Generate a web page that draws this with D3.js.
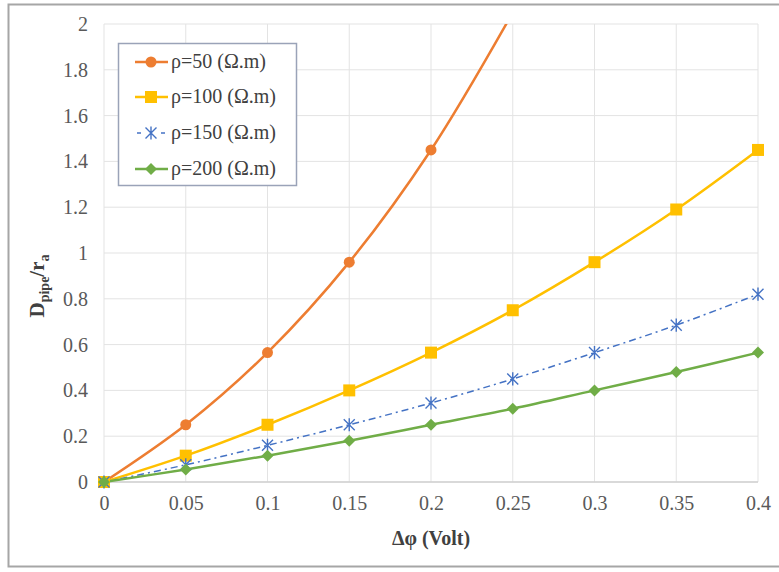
<!DOCTYPE html>
<html>
<head>
<meta charset="utf-8">
<script src="https://cdn.jsdelivr.net/npm/d3@7"></script>
<style>
  body { margin: 0; background: #fff; }
  svg text { font-family: "Liberation Serif", "Times New Roman", serif; }
</style>
</head>
<body>
<div id="chart"></div>
<script>
const xValues = [0, 0.05, 0.1, 0.15, 0.2, 0.25, 0.3, 0.35, 0.4];
const rho50 = [0, 0.25, 0.565, 0.96, 1.45, 2.05];
const rho100 = [0, 0.115, 0.25, 0.4, 0.565, 0.75, 0.96, 1.19, 1.45];
const rho150 = [0, 0.075, 0.16, 0.25, 0.345, 0.45, 0.565, 0.685, 0.82];
const rho200 = [0, 0.055, 0.115, 0.18, 0.25, 0.32, 0.4, 0.48, 0.565];
const xTicks = [0, 0.05, 0.1, 0.15, 0.2, 0.25, 0.3, 0.35, 0.4];
const yTicks = [0, 0.2, 0.4, 0.6, 0.8, 1, 1.2, 1.4, 1.6, 1.8, 2];

const series = [
  { name: "ρ=50 (Ω.m)", values: rho50, color: "#ED7D31", marker: "circle", dash: null, width: 2.5 },
  { name: "ρ=100 (Ω.m)", values: rho100, color: "#FFC000", marker: "square", dash: null, width: 2.5 },
  { name: "ρ=150 (Ω.m)", values: rho150, color: "#4472C4", marker: "star", dash: "7,4,2,4", width: 1.5 },
  { name: "ρ=200 (Ω.m)", values: rho200, color: "#70AD47", marker: "diamond", dash: null, width: 2.5 },
];

const width = 779, height = 572;
const margin = { left: 104, right: 21, top: 24, bottom: 90 };
const plotW = width - margin.left - margin.right;
const plotH = height - margin.top - margin.bottom;

const svg = d3.select("#chart").append("svg")
  .attr("width", width).attr("height", height);

// outer frame
svg.append("rect")
  .attr("x", 8.5).attr("y", 4.5).attr("width", width).attr("height", 562)
  .attr("fill", "none").attr("stroke", "#a6a6a6").attr("stroke-width", 2);

const x = d3.scaleLinear().domain([0, 0.4]).range([0, plotW]);
const y = d3.scaleLinear().domain([0, 2]).range([plotH, 0]);

const g = svg.append("g").attr("transform", `translate(${margin.left},${margin.top})`);

svg.append("defs").append("clipPath").attr("id", "plotClip")
  .append("rect").attr("x", -8).attr("y", 0).attr("width", plotW + 16).attr("height", plotH + 8);

// gridlines
g.append("g").selectAll("line").data(yTicks).join("line")
  .attr("x1", 0).attr("x2", plotW)
  .attr("y1", d => y(d)).attr("y2", d => y(d))
  .attr("stroke", "#e3e3e3").attr("stroke-width", 1);
g.append("g").selectAll("line").data(xTicks).join("line")
  .attr("x1", d => x(d)).attr("x2", d => x(d))
  .attr("y1", 0).attr("y2", plotH)
  .attr("stroke", "#e3e3e3").attr("stroke-width", 1);
g.append("line").attr("x1", 0).attr("x2", plotW).attr("y1", plotH).attr("y2", plotH)
  .attr("stroke", "#d0d0d0").attr("stroke-width", 1.5);

// axes (labels only)
const xAxis = g.append("g").attr("transform", `translate(0,${plotH})`)
  .call(d3.axisBottom(x).tickValues(xTicks).tickSize(0).tickPadding(14).tickFormat(d => d3.format("")(d)));
const yAxis = g.append("g")
  .call(d3.axisLeft(y).tickValues(yTicks).tickSize(0).tickPadding(16).tickFormat(d => d3.format("")(d)));
[xAxis, yAxis].forEach(a => {
  a.select(".domain").remove();
  a.attr("font-family", "Liberation Serif");
  a.selectAll("text")
    .style("font-family", "'Liberation Serif', serif")
    .style("font-size", "20px").style("fill", "#595959");
});

// axis titles
svg.append("text")
  .attr("x", margin.left + plotW / 2).attr("y", 545)
  .attr("text-anchor", "middle")
  .style("font-size", "20px").style("font-weight", "bold").style("fill", "#404040")
  .text("Δφ (Volt)");

const yTitle = svg.append("text")
  .attr("transform", "translate(44,286) rotate(-90)")
  .attr("text-anchor", "middle")
  .style("font-size", "21px").style("font-weight", "bold").style("fill", "#404040");
yTitle.append("tspan").text("D");
yTitle.append("tspan").attr("dy", 5).style("font-size", "14px").text("pipe");
yTitle.append("tspan").attr("dy", -5).text("/r");
yTitle.append("tspan").attr("dy", 5).style("font-size", "14px").text("a");

// markers
function drawMarker(sel, type, color, size) {
  if (type === "circle") {
    sel.append("circle").attr("r", size * 0.55).attr("fill", color);
  } else if (type === "square") {
    sel.append("rect").attr("x", -size * 0.6).attr("y", -size * 0.6)
      .attr("width", size * 1.2).attr("height", size * 1.2).attr("fill", color);
  } else if (type === "diamond") {
    const r = size * 0.6;
    sel.append("path").attr("d", `M0,${-r}L${r},0L0,${r}L${-r},0Z`).attr("fill", color);
  } else if (type === "star") {
    const r = size * 0.55;
    sel.append("path")
      .attr("d", `M${-r},${-r}L${r},${r}M${-r},${r}L${r},${-r}M0,${-r * 1.2}L0,${r * 1.2}`)
      .attr("stroke", color).attr("stroke-width", 1.4).attr("fill", "none");
  }
}

const line = d3.line()
  .x((d, i) => x(xValues[i]))
  .y(d => y(d))
  .curve(d3.curveCatmullRom.alpha(0.5));

const plot = g.append("g").attr("clip-path", "url(#plotClip)");

series.forEach(s => {
  plot.append("path")
    .datum(s.values)
    .attr("d", line)
    .attr("fill", "none")
    .attr("stroke", s.color)
    .attr("stroke-width", s.width)
    .attr("stroke-dasharray", s.dash);
});

series.forEach(s => {
  const pts = s.values.map((v, i) => [xValues[i], v]).filter(p => p[1] <= 2);
  plot.append("g").selectAll("g").data(pts).join("g")
    .attr("transform", p => `translate(${x(p[0])},${y(p[1])})`)
    .each(function () { drawMarker(d3.select(this), s.marker, s.color, 10); });
});

// legend
const legend = svg.append("g");
legend.append("rect")
  .attr("x", 118.5).attr("y", 43.5).attr("width", 178).attr("height", 142)
  .attr("fill", "#fff").attr("stroke", "#9aa3b8").attr("stroke-width", 1.5);

const legendRows = [62, 97, 133, 169];
series.forEach((s, i) => {
  const row = legend.append("g").attr("transform", `translate(0,${legendRows[i]})`);
  if (s.marker === "star") {
    row.append("line").attr("x1", 137).attr("x2", 141).attr("y1", 0).attr("y2", 0)
      .attr("stroke", s.color).attr("stroke-width", s.width);
    row.append("line").attr("x1", 161).attr("x2", 165).attr("y1", 0).attr("y2", 0)
      .attr("stroke", s.color).attr("stroke-width", s.width);
  } else {
    row.append("line").attr("x1", 135).attr("x2", 168).attr("y1", 0).attr("y2", 0)
      .attr("stroke", s.color).attr("stroke-width", s.width);
  }
  const m = row.append("g").attr("transform", "translate(151,0)");
  drawMarker(m, s.marker, s.color, 10);
  row.append("text").attr("x", 171).attr("y", 6)
    .style("font-size", "20px").style("fill", "#404040")
    .text(s.name);
});
</script>
</body>
</html>
